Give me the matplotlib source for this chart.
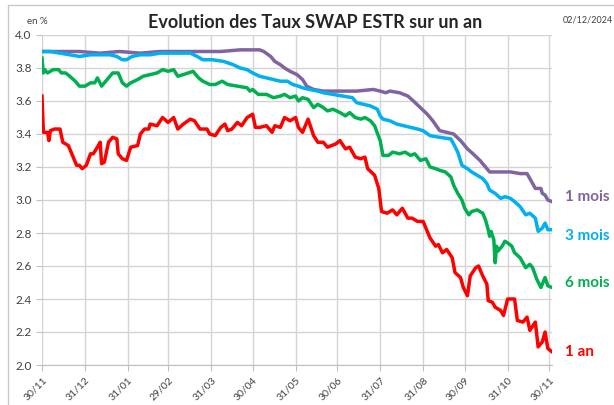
import numpy as np
import pandas as pd
from matplotlib import pyplot as plt
from matplotlib import dates as mdates
from matplotlib.patches import Rectangle

plt.rcParams['font.family'] = ['Lato', 'DejaVu Sans']

debut = pd.Timestamp('2023-11-30')

# jours depuis le 30/11/2023 et taux (en %)
jours_1an = [0, 1, 4, 5, 6, 9, 13, 15, 19, 22, 25, 27, 29, 32, 35, 37, 40, 42, 43, 45,
             48, 51, 54, 55, 58, 61, 64, 69, 71, 74, 77, 78, 83, 87, 91, 95, 98, 102, 107, 110,
             114, 119, 121, 125, 129, 132, 134, 137, 141, 144, 148, 152, 154, 157, 162, 166, 168, 172, 175, 179,
             183, 185, 188, 192, 196, 199, 203, 206, 212, 215, 219, 222, 226, 230, 233, 235, 240, 243, 245, 249,
             253, 256, 260, 264, 267, 271, 275, 280, 284, 286, 289, 292, 296, 298, 302, 304, 307, 309, 313, 315,
             318, 321, 322, 325, 327, 331, 333, 336, 339, 341, 343, 347, 350, 352, 356, 358, 361, 363, 365, 368]
taux_1an = [3.63, 3.41, 3.41, 3.36, 3.42, 3.43, 3.43, 3.35, 3.33, 3.27, 3.21, 3.21, 3.19, 3.21, 3.28, 3.28, 3.32, 3.35, 3.22, 3.23,
            3.35, 3.38, 3.37, 3.28, 3.25, 3.24, 3.32, 3.33, 3.40, 3.43, 3.43, 3.46, 3.45, 3.50, 3.47, 3.50, 3.43, 3.46, 3.49, 3.48,
            3.43, 3.43, 3.40, 3.39, 3.44, 3.46, 3.42, 3.43, 3.47, 3.45, 3.50, 3.52, 3.44, 3.44, 3.45, 3.41, 3.45, 3.44, 3.50, 3.48,
            3.50, 3.44, 3.41, 3.49, 3.39, 3.35, 3.35, 3.32, 3.34, 3.36, 3.31, 3.32, 3.26, 3.25, 3.26, 3.19, 3.15, 3.07, 2.93, 2.92,
            2.94, 2.91, 2.95, 2.89, 2.89, 2.87, 2.87, 2.77, 2.72, 2.73, 2.68, 2.70, 2.65, 2.56, 2.53, 2.47, 2.42, 2.54, 2.59, 2.60,
            2.54, 2.49, 2.39, 2.38, 2.35, 2.33, 2.30, 2.40, 2.40, 2.40, 2.27, 2.26, 2.29, 2.21, 2.26, 2.11, 2.14, 2.20, 2.10, 2.08]

jours_6m = [0, 1, 2, 4, 8, 12, 14, 17, 20, 24, 27, 31, 35, 38, 40, 43, 47, 51, 55, 58,
            61, 64, 69, 73, 78, 83, 87, 91, 95, 98, 102, 109, 113, 116, 121, 125, 130, 134, 141, 148,
            150, 152, 156, 162, 167, 172, 175, 179, 183, 185, 188, 192, 196, 199, 203, 206, 210, 215, 219, 222,
            226, 230, 233, 237, 240, 244, 246, 250, 253, 258, 262, 266, 269, 273, 277, 280, 284, 287, 291, 295,
            297, 300, 303, 305, 308, 310, 314, 318, 320, 322, 323, 324, 326, 327, 328, 329, 332, 334, 336, 339,
            341, 345, 349, 352, 354, 357, 360, 363, 365, 368]
taux_6m = [3.86, 3.77, 3.79, 3.77, 3.79, 3.79, 3.77, 3.77, 3.75, 3.72, 3.69, 3.69, 3.71, 3.71, 3.74, 3.69, 3.73, 3.77, 3.77, 3.71,
           3.69, 3.71, 3.73, 3.75, 3.76, 3.77, 3.79, 3.78, 3.79, 3.75, 3.76, 3.78, 3.74, 3.72, 3.70, 3.70, 3.72, 3.70, 3.69, 3.68,
           3.66, 3.67, 3.64, 3.64, 3.62, 3.63, 3.64, 3.62, 3.63, 3.60, 3.62, 3.61, 3.56, 3.58, 3.56, 3.54, 3.55, 3.53, 3.51, 3.53,
           3.50, 3.49, 3.50, 3.48, 3.45, 3.36, 3.27, 3.27, 3.29, 3.28, 3.29, 3.27, 3.28, 3.24, 3.25, 3.20, 3.19, 3.18, 3.17, 3.14,
           3.09, 3.04, 3.00, 2.95, 2.91, 2.93, 2.94, 2.92, 2.88, 2.82, 2.78, 2.81, 2.76, 2.62, 2.72, 2.69, 2.72, 2.75, 2.74, 2.72,
           2.68, 2.65, 2.59, 2.61, 2.59, 2.52, 2.47, 2.53, 2.48, 2.47]

jours_3m = [0, 6, 13, 20, 27, 35, 42, 49, 54, 58, 61, 65, 71, 78, 85, 92, 100, 107, 112, 116,
            123, 131, 138, 143, 148, 152, 157, 162, 167, 172, 177, 181, 185, 188, 193, 199, 203, 210, 217, 224,
            227, 232, 237, 242, 244, 246, 251, 256, 261, 266, 271, 275, 280, 287, 295, 297, 300, 303, 307, 310,
            314, 318, 321, 323, 327, 331, 334, 338, 341, 345, 349, 352, 356, 358, 361, 363, 365, 368]
taux_3m = [3.90, 3.90, 3.89, 3.88, 3.87, 3.88, 3.88, 3.88, 3.87, 3.85, 3.85, 3.87, 3.88, 3.88, 3.89, 3.89, 3.89, 3.89, 3.87, 3.85,
           3.85, 3.84, 3.82, 3.80, 3.79, 3.77, 3.75, 3.74, 3.73, 3.72, 3.72, 3.70, 3.69, 3.68, 3.67, 3.66, 3.65, 3.64, 3.63, 3.62,
           3.59, 3.58, 3.57, 3.55, 3.51, 3.49, 3.48, 3.46, 3.45, 3.44, 3.43, 3.42, 3.39, 3.38, 3.37, 3.34, 3.29, 3.21, 3.19, 3.17,
           3.15, 3.13, 3.10, 3.06, 3.04, 3.01, 3.02, 3.01, 2.99, 2.96, 2.91, 2.92, 2.89, 2.81, 2.83, 2.86, 2.82, 2.82]

jours_1m = [0, 13, 27, 42, 56, 71, 85, 100, 114, 129, 143, 157, 160, 165, 168, 172, 175, 179, 184, 188,
            191, 196, 203, 215, 227, 239, 244, 248, 251, 258, 264, 268, 273, 278, 282, 287, 292, 297, 302, 307,
            311, 316, 321, 323, 331, 338, 345, 350, 352, 356, 360, 361, 363, 365, 368]
taux_1m = [3.90, 3.90, 3.90, 3.89, 3.90, 3.89, 3.90, 3.90, 3.90, 3.90, 3.91, 3.91, 3.90, 3.87, 3.84, 3.82, 3.80, 3.78, 3.76, 3.73,
           3.69, 3.67, 3.66, 3.66, 3.66, 3.67, 3.66, 3.65, 3.66, 3.65, 3.63, 3.60, 3.56, 3.52, 3.48, 3.42, 3.41, 3.40, 3.36, 3.31,
           3.28, 3.24, 3.19, 3.17, 3.17, 3.17, 3.16, 3.16, 3.13, 3.07, 3.07, 3.04, 3.03, 3.00, 2.99]

# (jours, taux, couleur, libellé, décalage vertical du libellé en points)
series = [
    (jours_1m, taux_1m, '#8064a2', '1 mois', 3),
    (jours_3m, taux_3m, '#00b0f0', '3 mois', -4.5),
    (jours_6m, taux_6m, '#00b050', '6 mois', 3.5),
    (jours_1an, taux_1an, '#ff0000', '1 an', 0),
]

mois = pd.to_datetime(['2023-11-30', '2023-12-31', '2024-01-31', '2024-02-29', '2024-03-31', '2024-04-30',
                       '2024-05-31', '2024-06-30', '2024-07-31', '2024-08-31', '2024-09-30', '2024-10-31',
                       '2024-11-30'])

fig = plt.figure(figsize=(6.14, 4.05), dpi=100)
fig.patches.append(Rectangle((8 / 614, -0.01), 1.0, 1 - 5 / 405 + 0.01, transform=fig.transFigure,
                             fill=False, edgecolor='#c8c8c8', linewidth=1))
ax = fig.add_axes([42 / 614, 40 / 405, 510 / 614, 330 / 405])

for jours, taux, couleur, nom, dy in series:
    dates = debut + pd.to_timedelta(jours, unit='D')
    ax.plot(dates, taux, color=couleur, linewidth=2.5, solid_joinstyle='round')
    ax.annotate(nom, xy=(dates[-1], taux[-1]), xytext=(9.5, dy), textcoords='offset points',
                color=couleur, fontsize=11, fontweight='bold', va='center', ha='left',
                annotation_clip=False)

ax.set_xlim(debut, debut + pd.Timedelta(days=368))
ax.set_ylim(2.0, 4.0)
ax.set_yticks(np.arange(2.0, 4.01, 0.2))
ax.yaxis.set_major_formatter(plt.FormatStrFormatter('%.1f'))
ax.set_xticks(mois)
ax.xaxis.set_major_formatter(mdates.DateFormatter('%d/%m'))
plt.setp(ax.get_xticklabels(), rotation=45, ha='right', rotation_mode='anchor')

ax.grid(True, color='#d4d4d4', linewidth=1)
ax.set_axisbelow(True)
for s in ['top', 'right', 'left']:
    ax.spines[s].set_visible(False)
ax.spines['bottom'].set_color('#c0c0c0')
ax.tick_params(axis='both', colors='#404040', labelsize=8.5, length=4, width=0.8)
ax.tick_params(axis='x', labelsize=7.5, color='#c0c0c0')
ax.tick_params(axis='y', color='#c0c0c0')

fig.text(315 / 614, 1 - 22 / 405, 'Evolution des Taux SWAP ESTR sur un an', fontsize=13,
         fontweight='bold', color='#262626', ha='center', va='center')
fig.text(37 / 614, 1 - 22 / 405, 'en %', fontsize=7, color='#404040', ha='center', va='center')
fig.text(588 / 614, 1 - 20 / 405, '02/12/2024', fontsize=6.5, color='#404040', ha='center', va='center')

fig.savefig('out.png', dpi=100)
